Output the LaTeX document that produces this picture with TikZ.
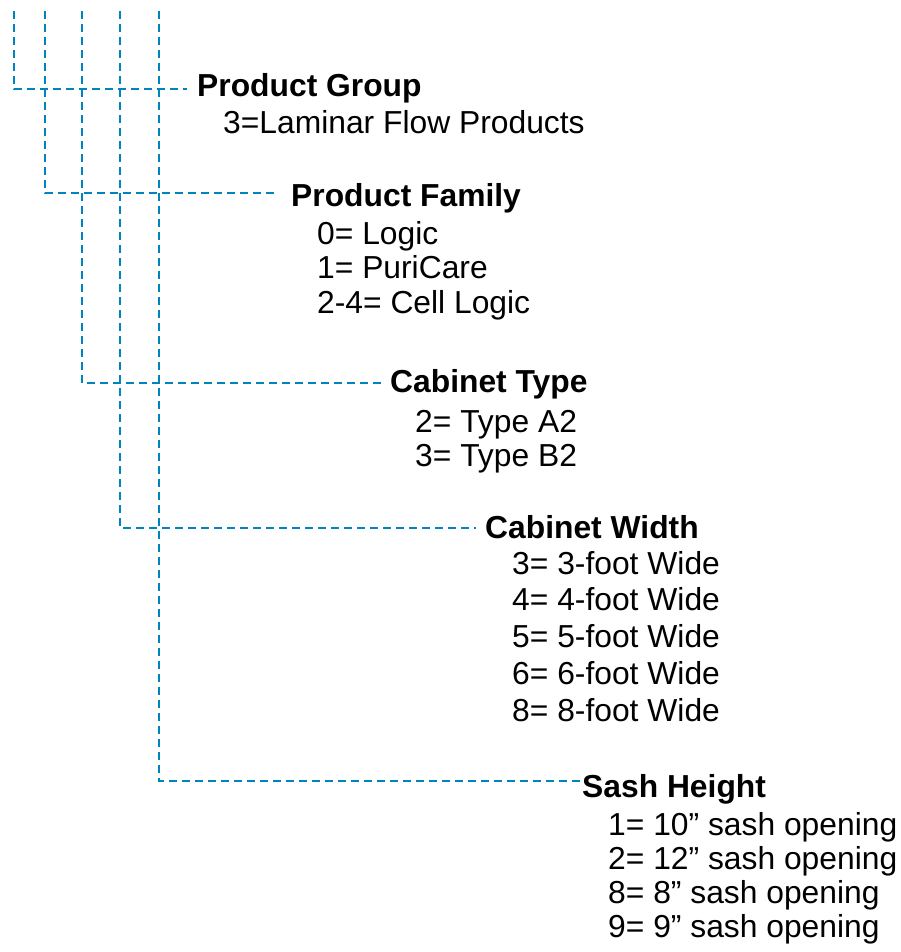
\documentclass[tikz,border=0pt]{standalone}
\usepackage{fontspec}
\setmainfont{Liberation Sans}
\definecolor{codeblue}{RGB}{0,132,192}
\tikzset{
  codeline/.style={draw=codeblue, line width=2.3pt, dash pattern=on 8pt off 5pt},
  fieldtitle/.style={anchor=base west, inner sep=0pt, font=\fontsize{31.8}{36}\selectfont\bfseries},
  fieldvalue/.style={anchor=base west, inner sep=0pt, font=\fontsize{31.8}{36}\selectfont},
}
\begin{document}
\begin{tikzpicture}[x=1pt,y=-1pt]
\useasboundingbox (0,0) rectangle (901,952);

% top ends of the code columns
\coordinate (top1) at (14,11);
\coordinate (top2) at (45,11);
\coordinate (top3) at (82,11);
\coordinate (top4) at (120,11);
\coordinate (top5) at (159,11);

% Product group
\node[fieldtitle] (group) at (197,97) {Product Group};
\node[fieldvalue] (group1) at (223,134) {3=Laminar Flow Products};
\coordinate (end1) at (187,89);

% Product family
\node[fieldtitle] (family) at (291,206) {Product Family};
\foreach \txt [count=\k] in {0= Logic, 1= PuriCare, 2-4= Cell Logic}
  \node[fieldvalue] (family\k) at (317,244+34.5*\k-34.5) {\txt};
\coordinate (end2) at (275,193);

% Cabinet type
\node[fieldtitle] (type) at (390,392) {Cabinet Type};
\foreach \txt [count=\k] in {2= Type A2, 3= Type B2}
  \node[fieldvalue] (type\k) at (415,432+34*\k-34) {\txt};
\coordinate (end3) at (383,383);

% Cabinet width
\node[fieldtitle] (width) at (485,538) {Cabinet Width};
\foreach \txt [count=\k] in {3= 3-foot Wide, 4= 4-foot Wide, 5= 5-foot Wide, 6= 6-foot Wide, 8= 8-foot Wide}
  \node[fieldvalue] (width\k) at (512,574+36.8*\k-36.8) {\txt};
\coordinate (end4) at (476,528);

% Sash height
\node[fieldtitle] (sash) at (582,797) {Sash Height};
\foreach \txt [count=\k] in {1= 10” sash opening, 2= 12” sash opening, 8= 8” sash opening, 9= 9” sash opening}
  \node[fieldvalue] (sash\k) at (608,835+34*\k-34) {\txt};
\coordinate (end5) at (580,781);

% dashed leaders
\draw[codeline] (top1) |- (end1);
\draw[codeline] (top2) |- (end2);
\draw[codeline] (top3) |- (end3);
\draw[codeline] (top4) |- (end4);
\draw[codeline] (top5) |- (end5);
\end{tikzpicture}
\end{document}
